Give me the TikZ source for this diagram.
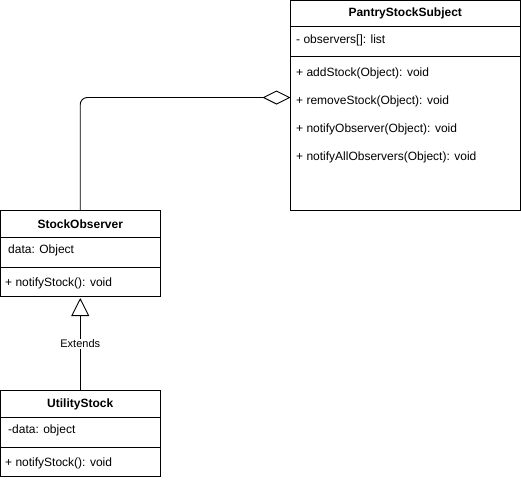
\documentclass[tikz,border=0pt]{standalone}
\usepackage{fontspec}
\setmainfont{Liberation Sans}
\usetikzlibrary{arrows.meta,calc,positioning}
\definecolor{LineClr}{rgb}{0,0,0}

\begin{document}
\begin{tikzpicture}[x=1pt,y=-1pt,
  classbox/.style={draw=LineClr,line width=0.9pt,inner sep=0pt,outer sep=0pt,anchor=north west},
  classname/.style={font=\fontsize{12}{14}\selectfont\bfseries,inner sep=0pt},
  member/.style={font=\fontsize{12}{14}\selectfont,inner sep=0pt,anchor=west},
  sep/.style={line width=0.9pt},
  aggr/.style={line width=0.9pt,rounded corners=7pt,-{Diamond[open,length=28pt,width=14pt,line width=0.9pt]}},
  extends/.style={line width=0.9pt,-{Triangle[open,length=18pt,width=18pt,line width=0.9pt]}},
  lbl/.style={font=\fontsize{11}{13}\selectfont,fill=white,inner sep=1pt}]
\useasboundingbox (0,0) rectangle (521,480);

\node[classbox,minimum width=229.5pt,minimum height=210pt] (subj) at (290.5,0.5) {};
\node[classname] (subjname) at ($(subj.north)+(0,13)$) {PantryStockSubject};
\draw[sep] ($(subj.north west)+(0,26)$) -- ($(subj.north east)+(0,26)$);
\node[member] (observers) at (296,40) {- observers[]: list};
\draw[sep] ($(subj.north west)+(0,56)$) -- ($(subj.north east)+(0,56)$);
\node[member] (addstock) at (296,73) {+ addStock(Object): void};
\node[member] (removestock) at (296,101) {+ removeStock(Object): void};
\node[member] (notifyobs) at (296,129) {+ notifyObserver(Object): void};
\node[member] (notifyall) at (296,157) {+ notifyAllObservers(Object): void};

\node[classbox,minimum width=159.5pt,minimum height=86pt] (obs) at (0.5,210) {};
\node[classname] (obsname) at ($(obs.north)+(0,14)$) {StockObserver};
\draw[sep] ($(obs.north west)+(0,27)$) -- ($(obs.north east)+(0,27)$);
\node[member] (obsdata) at (8,250) {data: Object};
\draw[sep] ($(obs.north west)+(0,57)$) -- ($(obs.north east)+(0,57)$);
\node[member] (obsnotify) at (5,283) {+ notifyStock(): void};

\node[classbox,minimum width=159.5pt,minimum height=86pt] (util) at (0.5,390) {};
\node[classname] (utilname) at ($(util.north)+(0,14)$) {UtilityStock};
\draw[sep] ($(util.north west)+(0,27)$) -- ($(util.north east)+(0,27)$);
\node[member] (utildata) at (8,430) {-data: object};
\draw[sep] ($(util.north west)+(0,57)$) -- ($(util.north east)+(0,57)$);
\node[member] (utilnotify) at (5,463) {+ notifyStock(): void};

\coordinate (hook) at ($(subj.north west)+(0,97)$);
\draw[aggr] (obs.north) |- (hook);
\draw[extends] (util.north) -- ($(obs.south)+(0,2)$) node[lbl,pos=0.5] (extlabel) {Extends};

\end{tikzpicture}
\end{document}
